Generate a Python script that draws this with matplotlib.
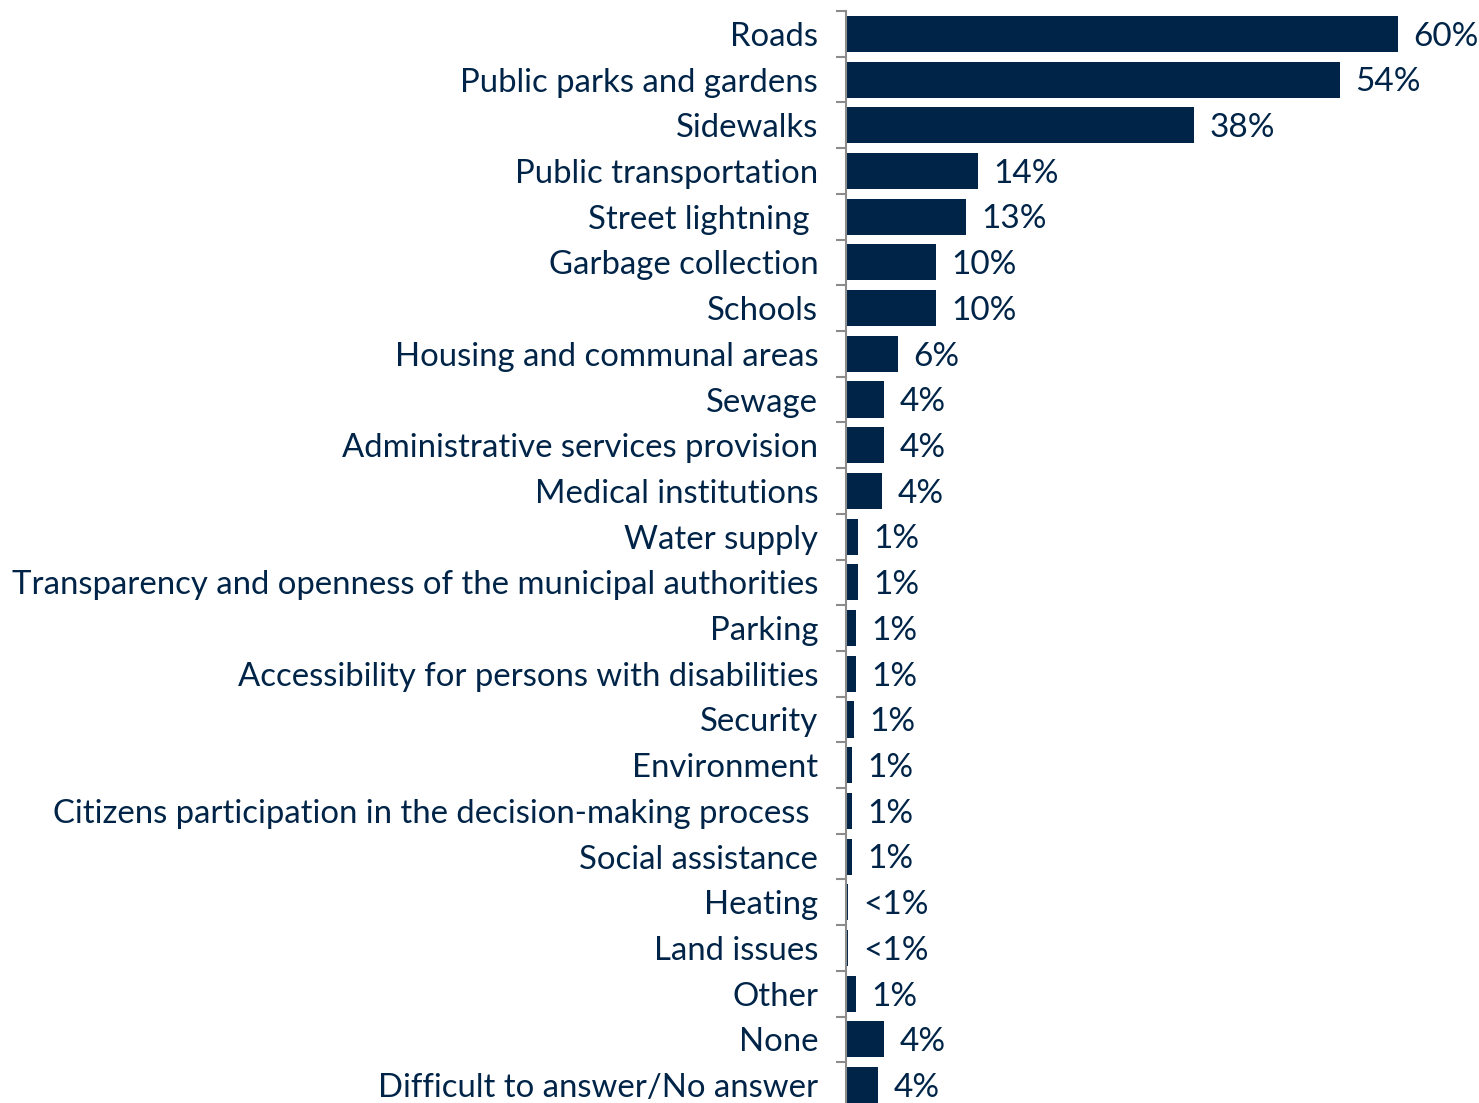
import matplotlib.pyplot as plt
import numpy as np

# survey answers, top to bottom
categories = ["Roads", "Public parks and gardens", "Sidewalks", "Public transportation",
              "Street lightning ", "Garbage collection", "Schools", "Housing and communal areas",
              "Sewage", "Administrative services provision", "Medical institutions", "Water supply",
              "Transparency and openness of the municipal authorities", "Parking",
              "Accessibility for persons with disabilities", "Security", "Environment",
              "Citizens participation in the decision-making process ", "Social assistance",
              "Heating", "Land issues", "Other", "None", "Difficult to answer/No answer"]
values = [60.0, 53.7, 37.8, 14.3, 13.05, 9.8, 9.8, 5.7, 4.15, 4.15, 3.95, 1.33,
          1.33, 1.12, 1.12, 0.9, 0.68, 0.68, 0.68, 0.25, 0.25, 1.1, 4.15, 3.5]
value_labels = ["60%", "54%", "38%", "14%", "13%", "10%", "10%", "6%", "4%", "4%", "4%", "1%",
                "1%", "1%", "1%", "1%", "1%", "1%", "1%", "<1%", "<1%", "1%", "4%", "4%"]

NAVY = '#002447'
GREY = '#8c8c8c'
plt.rcParams['font.family'] = ['Lato', 'DejaVu Sans']

W, H = 1479, 1103
fig = plt.figure(figsize=(W/100, H/100), dpi=100)
# axes: spine at x=846px, top boundary at 11px, bottom boundary just below the figure
ax = fig.add_axes([846/W, (H-1108)/H, (W-846)/W, (1108-11)/H])

y = np.arange(len(categories))
ax.barh(y, values, height=0.79, color=NAVY)

for yi, v, lab in zip(y, values, value_labels):
    ax.annotate(lab, (v, yi), xytext=(11, -2), textcoords='offset points',
                va='center', ha='left', fontsize=24, color=NAVY)

ax.set_xlim(0, (W-846)/9.205)
ax.set_ylim(len(categories)-0.5, -0.5)

ax.set_yticks(y)
ax.set_yticklabels(categories, fontsize=23.7, color=NAVY)
ax.tick_params(axis='y', which='major', length=0, pad=20)
ax.set_yticks(np.arange(-0.5, len(categories), 1), minor=True)
ax.tick_params(axis='y', which='minor', length=7, width=1.5, color=GREY)
ax.set_xticks([])

for s in ['top', 'right', 'bottom']:
    ax.spines[s].set_visible(False)
ax.spines['left'].set_color(GREY)
ax.spines['left'].set_linewidth(1.5)

plt.savefig('out.png', dpi=100)
